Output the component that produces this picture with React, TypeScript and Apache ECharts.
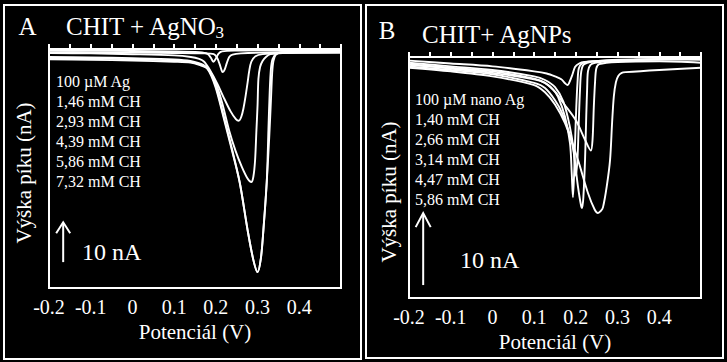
import React, { useEffect, useRef } from "react";
import * as echarts from "echarts";

// ---------- data (potential V, current nA) ----------
const X_MIN = -0.2;
const X_MAX = 0.5;
const X_STEP = 0.05;
const X_LABEL_MAX = 0.4;
const Y_RANGE_A = [-60, 0];
const Y_RANGE_B = [-33.5, 0];

const LEGEND_A = ["100 µM Ag", "1,46 mM CH", "2,93 mM CH", "4,39 mM CH", "5,86 mM CH", "7,32 mM CH"];
const LEGEND_B = ["100 µM nano Ag", "1,40 mM CH", "2,66 mM CH", "3,14 mM CH", "4,47 mM CH", "5,86 mM CH"];

const A_AG_100 = [[-0.2,-0.4],[-0.1,-0.45],[0,-0.5],[0.1,-0.6],[0.16,-0.8],[0.18,-1.2],[0.188,-2.2],[0.194,-3.2],[0.2,-2.4],[0.206,-1.2],[0.215,-0.6],[0.25,-0.4],[0.35,-0.3],[0.5,-0.3]];
const A_CH_146 = [[-0.2,-0.8],[-0.1,-0.85],[0,-0.9],[0.1,-1.0],[0.17,-1.1],[0.195,-1.3],[0.203,-2.2],[0.209,-3.8],[0.214,-5.4],[0.217,-5.8],[0.221,-5.2],[0.226,-3.6],[0.232,-2.0],[0.24,-1.4],[0.26,-1.1],[0.35,-0.8],[0.5,-0.7]];
const A_CH_293 = [[-0.2,-1.0],[-0.1,-1.1],[0,-1.3],[0.1,-1.6],[0.14,-2.0],[0.16,-2.5],[0.172,-3.2],[0.187,-5.5],[0.204,-8.8],[0.218,-12],[0.235,-15.6],[0.248,-17.6],[0.255,-18],[0.261,-17],[0.266,-15],[0.271,-12],[0.276,-8.5],[0.28,-5.5],[0.285,-3.2],[0.295,-1.8],[0.312,-1.3],[0.35,-1.0],[0.5,-0.9]];
const A_CH_439 = [[-0.2,-2.0],[-0.1,-2.1],[0,-2.3],[0.1,-2.6],[0.139,-3.0],[0.17,-4.0],[0.187,-5.8],[0.2,-8.5],[0.215,-13.5],[0.232,-20.5],[0.247,-25.5],[0.262,-29.5],[0.276,-32.5],[0.285,-33.4],[0.29,-32],[0.294,-28],[0.297,-21],[0.3,-14],[0.302,-7.5],[0.306,-4.5],[0.312,-3.0],[0.32,-2.0],[0.331,-1.3],[0.36,-1.0],[0.5,-0.9]];
const A_CH_586 = [[-0.2,-2.3],[-0.1,-2.4],[0,-2.6],[0.1,-2.9],[0.139,-3.2],[0.16,-3.8],[0.18,-4.8],[0.199,-9.0],[0.218,-16.5],[0.235,-23.5],[0.257,-33.4],[0.276,-45.4],[0.29,-53],[0.3,-56],[0.308,-52.5],[0.314,-45.4],[0.322,-33.4],[0.328,-22],[0.332,-13],[0.335,-6],[0.338,-3],[0.344,-1.4],[0.36,-0.8],[0.5,-0.6]];
const A_CH_732 = [[-0.2,-2.6],[-0.1,-2.7],[0,-2.9],[0.1,-3.2],[0.139,-3.4],[0.16,-4.0],[0.18,-5.0],[0.199,-9.5],[0.218,-17],[0.235,-24],[0.257,-33.4],[0.276,-45.4],[0.29,-53],[0.3,-56],[0.308,-52.5],[0.314,-45.4],[0.322,-33.4],[0.326,-20.3],[0.329,-11],[0.332,-5],[0.336,-2.5],[0.345,-1.2],[0.36,-0.8],[0.5,-0.7]];

const B_NANO_100 = [[-0.2,-0.5],[-0.1,-0.9],[0,-1.3],[0.1,-2.0],[0.13,-2.3],[0.15,-2.7],[0.165,-3.1],[0.175,-3.7],[0.18,-3.9],[0.186,-3.3],[0.192,-2.4],[0.198,-1.4],[0.208,-0.9],[0.22,-0.7],[0.3,-0.5],[0.4,-0.3],[0.5,-0.2]];
const B_CH_140 = [[-0.2,-1.0],[-0.1,-1.5],[0,-2.0],[0.1,-3.0],[0.126,-3.6],[0.145,-4.5],[0.157,-5.5],[0.174,-8.3],[0.186,-12],[0.19,-16],[0.193,-19.5],[0.196,-16],[0.198,-12],[0.201,-7],[0.204,-3.5],[0.207,-1.6],[0.215,-0.9],[0.24,-0.6],[0.35,-0.4],[0.5,-0.3]];
const B_CH_266 = [[-0.2,-1.3],[-0.1,-1.8],[0,-2.4],[0.1,-3.6],[0.126,-4.3],[0.15,-6.0],[0.167,-7.8],[0.191,-12],[0.205,-18],[0.212,-20.5],[0.215,-21],[0.218,-19.5],[0.222,-14.3],[0.225,-8],[0.227,-4.5],[0.229,-2.0],[0.235,-1.1],[0.246,-0.8],[0.3,-0.5],[0.5,-0.1]];
const B_CH_314 = [[-0.2,-0.8],[-0.1,-1.3],[0,-1.8],[0.1,-2.7],[0.126,-3.2],[0.15,-4.2],[0.17,-6.2],[0.185,-9.5],[0.195,-13],[0.2,-16.5],[0.204,-14],[0.207,-9],[0.21,-4.5],[0.213,-2.0],[0.22,-1.0],[0.26,-0.5],[0.4,-0.3],[0.5,-0.4]];
const B_CH_447 = [[-0.2,-1.1],[-0.1,-1.6],[0,-2.2],[0.1,-3.1],[0.126,-3.6],[0.15,-4.8],[0.17,-6.4],[0.2,-8.8],[0.222,-11.5],[0.236,-13],[0.24,-11.5],[0.243,-7],[0.246,-3.5],[0.249,-1.6],[0.256,-1.0],[0.3,-0.7],[0.4,-0.6],[0.5,-0.8]];
const B_CH_586 = [[-0.2,-1.5],[-0.1,-2.0],[0,-2.7],[0.1,-3.9],[0.126,-4.9],[0.15,-6.6],[0.174,-9.2],[0.205,-14.3],[0.229,-18.9],[0.245,-21.2],[0.253,-21.7],[0.26,-21.4],[0.265,-20.9],[0.274,-18],[0.282,-14.3],[0.287,-9],[0.291,-5.5],[0.296,-3.5],[0.302,-2.6],[0.31,-2.2],[0.32,-2.1],[0.4,-1.8],[0.5,-1.5]];

const SERIES_A = [A_AG_100, A_CH_146, A_CH_293, A_CH_439, A_CH_586, A_CH_732];
const SERIES_B = [B_NANO_100, B_CH_140, B_CH_266, B_CH_314, B_CH_447, B_CH_586];

// scale bar: 10 nA
const SCALE_X = -0.166;
const SCALE_LEN = 10;
const SCALE_A_Y0 = -53.5;
const SCALE_B_Y0 = -31.7;

const FONT = "'Liberation Serif', 'Times New Roman', Times, serif";
const WHITE = "#ffffff";

function fmtTick(v: number): string {
  const r = Math.round(v * 100);
  if (r % 10 !== 0 || r > Math.round(X_LABEL_MAX * 100)) return "";
  return r === 0 ? "0" : String(r / 100);
}

function xAxis(gridIndex: number) {
  return {
    type: "value",
    gridIndex,
    min: X_MIN,
    max: X_MAX,
    interval: X_STEP,
    axisLine: { show: true, lineStyle: { color: WHITE, width: 2 } },
    axisTick: { show: true, inside: true, length: 5, lineStyle: { color: WHITE, width: 2 } },
    axisLabel: { color: WHITE, fontFamily: FONT, fontSize: 20, margin: 9, formatter: fmtTick, showMinLabel: true, showMaxLabel: true },
    splitLine: { show: false },
    name: "Potenciál (V)",
    nameLocation: "middle",
    nameGap: gridIndex === 0 ? 30 : 22,
    nameTextStyle: { color: WHITE, fontFamily: FONT, fontSize: 21 },
  };
}

function yAxis(gridIndex: number, range: number[]) {
  return {
    type: "value",
    gridIndex,
    min: range[0],
    max: range[1],
    axisLine: { show: false },
    axisTick: { show: false },
    axisLabel: { show: false },
    splitLine: { show: false },
  };
}

function text(x: number, y: number, t: string, size: number, align = "left", extra: any = {}) {
  return {
    type: "text",
    x,
    y,
    silent: true,
    ...extra,
    style: { text: t, fill: WHITE, fontFamily: FONT, fontSize: size, align, verticalAlign: "middle" },
  };
}

function arrow(p0: number[], p1: number[], hw: number, hh: number) {
  return [
    { type: "line", silent: true, shape: { x1: p0[0], y1: p0[1], x2: p1[0], y2: p1[1] + 1 }, style: { stroke: WHITE, lineWidth: 2 } },
    {
      type: "polyline",
      silent: true,
      shape: { points: [[p1[0] - hw, p1[1] + hh], [p1[0], p1[1]], [p1[0] + hw, p1[1] + hh]] },
      style: { stroke: WHITE, lineWidth: 2, fill: "none" },
    },
  ];
}

export default function App() {
  const ref = useRef<HTMLDivElement>(null);
  useEffect(() => {
    if (!ref.current) return;
    const chart = echarts.init(ref.current, null, { renderer: "svg" });
    const mkSeries = (arr: number[][][], gi: number) =>
      arr.map((d) => ({
        type: "line",
        xAxisIndex: gi,
        yAxisIndex: gi,
        data: d,
        showSymbol: false,
        smooth: 0.3,
        silent: true,
        lineStyle: { color: WHITE, width: 1.9 },
      }));
    chart.setOption({
      animation: false,
      backgroundColor: "#000000",
      grid: [
        { left: 49, top: 49, width: 292, height: 239, show: true, borderColor: WHITE, borderWidth: 2, backgroundColor: "transparent" },
        { left: 409, top: 57, width: 292, height: 241, show: true, borderColor: WHITE, borderWidth: 2, backgroundColor: "transparent" },
      ],
      xAxis: [xAxis(0), xAxis(1)],
      yAxis: [yAxis(0, Y_RANGE_A), yAxis(1, Y_RANGE_B)],
      series: [...mkSeries(SERIES_A, 0), ...mkSeries(SERIES_B, 1)],
    });

    const a0 = chart.convertToPixel({ gridIndex: 0 } as any, [SCALE_X, SCALE_A_Y0]) as number[];
    const a1 = chart.convertToPixel({ gridIndex: 0 } as any, [SCALE_X, SCALE_A_Y0 + SCALE_LEN]) as number[];
    const b0 = chart.convertToPixel({ gridIndex: 1 } as any, [SCALE_X, SCALE_B_Y0]) as number[];
    const b1 = chart.convertToPixel({ gridIndex: 1 } as any, [SCALE_X, SCALE_B_Y0 + SCALE_LEN]) as number[];

    const graphic: any[] = [
      { type: "rect", silent: true, shape: { x: 4, y: 5, width: 357, height: 354 }, style: { stroke: WHITE, lineWidth: 2, fill: "none" } },
      { type: "rect", silent: true, shape: { x: 366, y: 5, width: 357, height: 353 }, style: { stroke: WHITE, lineWidth: 2, fill: "none" } },
      text(27.5, 26.5, "A", 25, "center"),
      text(66, 26, "CHIT + AgNO", 25),
      text(215.5, 32, "3", 17),
      text(387, 30, "B", 25, "center"),
      text(422, 34, "CHIT+ AgNPs", 25),
      text(23.5, 173, "Výška píku (nA)", 21, "center", { rotation: Math.PI / 2 }),
      text(389, 192, "Výška píku (nA)", 21, "center", { rotation: Math.PI / 2 }),
      ...LEGEND_A.map((t, i) => text(56, 81 + i * 20, t, 16)),
      ...LEGEND_B.map((t, i) => text(415, 99 + i * 20, t, 16)),
      text(82, 252, "10 nA", 24),
      text(460, 260, "10 nA", 24),
      ...arrow(a0, a1, 7, 11),
      ...arrow(b0, b1, 7.5, 14),
    ];
    chart.setOption({ graphic });
    return () => chart.dispose();
  }, []);
  return <div ref={ref} style={{ position: "absolute", left: 0, top: 0, width: 727, height: 362, background: "#000" }} />;
}
